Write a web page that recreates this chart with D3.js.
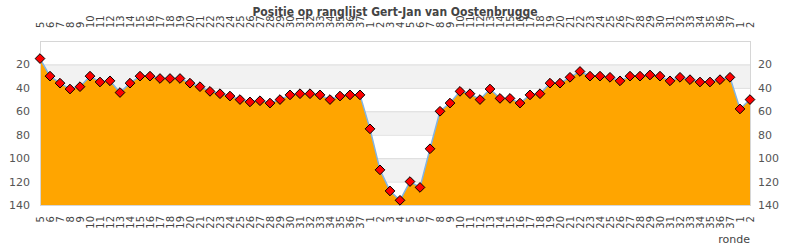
<!DOCTYPE html>
<html>
<head>
<meta charset="utf-8">
<script src="https://cdn.jsdelivr.net/npm/d3@7"></script>
<style>
  body { margin: 0; background: #fff; }
  svg text { font-family: "DejaVu Sans", sans-serif; }
</style>
</head>
<body>
<div id="chart"></div>
<script>
// rounds over three seasons: 5..37, 1..37, 1..2
const rounds = [
    5, 6, 7, 8, 9, 10, 11, 12, 13, 14, 15, 16, 17, 18, 19, 20, 21, 22, 23, 24, 25, 26, 27, 28, 29, 30, 31, 32, 33, 34, 35, 36, 37,
    1, 2, 3, 4, 5, 6, 7, 8, 9, 10, 11, 12, 13, 14, 15, 16, 17, 18, 19, 20, 21, 22, 23, 24, 25, 26, 27, 28, 29, 30, 31, 32, 33, 34, 35, 36, 37,
    1, 2
];
const positions = [
    15, 30, 36, 41, 39, 30, 35, 34, 44, 36, 30, 30, 32, 32, 32, 36, 39, 43, 45, 47, 50, 52, 51, 53, 50, 46, 45, 45, 46, 50, 47, 46, 46,
    75, 110, 128, 136, 120, 125, 92, 60, 53, 43, 45, 50, 41, 49, 49, 53, 46, 45, 36, 36, 31, 26, 30, 30, 31, 34, 30, 30, 29, 30, 34, 31, 33, 35, 35, 33, 31,
    58, 50
];
const yTicks = [20, 40, 60, 80, 100, 120, 140];
const title = "Positie op ranglijst Gert-Jan van Oostenbrugge";
const xTitle = "ronde";

const width = 790,
    height = 250,
    margin = { left: 40, right: 40, top: 41, bottom: 45 };

const chartWidth = width - margin.left - margin.right;
const chartHeight = height - margin.top - margin.bottom;

const data = rounds.map((r, i) => ({ i: i, round: r, pos: positions[i] }));

const svg = d3.select("#chart").append("svg")
    .attr("width", width)
    .attr("height", height);

const xScale = d3.scaleLinear()
    .domain([0, data.length - 1])
    .range([0, chartWidth]);

const yScale = d3.scaleLinear()
    .domain([0, 140])
    .range([0, chartHeight]);

const g = svg.append("g")
    .attr("transform", "translate(" + margin.left + "," + margin.top + ")");

// alternating bands
const bands = [0].concat(yTicks);
g.selectAll(".band")
    .data(d3.pairs(bands))
    .join("rect")
    .attr("x", 0)
    .attr("width", chartWidth)
    .attr("y", d => yScale(d[0]))
    .attr("height", d => yScale(d[1]) - yScale(d[0]))
    .attr("fill", (d, i) => i % 2 ? "#f2f2f2" : "#ffffff");

// grid lines
g.selectAll(".grid")
    .data(yTicks)
    .join("line")
    .attr("x1", 0)
    .attr("x2", chartWidth)
    .attr("y1", d => yScale(d) + 0.5)
    .attr("y2", d => yScale(d) + 0.5)
    .attr("stroke", "#dddddd");

// area
const area = d3.area()
    .x(d => xScale(d.i))
    .y0(chartHeight)
    .y1(d => yScale(d.pos));

g.append("path")
    .datum(data)
    .attr("d", area)
    .attr("fill", "#ffa500");

const line = d3.line()
    .x(d => xScale(d.i))
    .y(d => yScale(d.pos));

g.append("path")
    .datum(data)
    .attr("d", line)
    .attr("fill", "none")
    .attr("stroke", "#80b4e6")
    .attr("stroke-width", 1.5);

// plot frame
g.append("rect")
    .attr("x", 0.5)
    .attr("y", 0.5)
    .attr("width", chartWidth)
    .attr("height", chartHeight)
    .attr("fill", "none")
    .attr("stroke", "#d6d6d6");

// diamond markers
const diamond = d3.symbol().type(d3.symbolDiamond2).size(60);
g.selectAll(".marker")
    .data(data)
    .join("path")
    .attr("transform", d => "translate(" + xScale(d.i) + "," + yScale(d.pos) + ")")
    .attr("d", diamond)
    .attr("fill", "#ff0000")
    .attr("stroke", "#000")
    .attr("stroke-width", 1);

// y axes (left and right)
const yAxisLeft = d3.axisLeft(yScale).tickValues(yTicks).tickSize(0).tickPadding(10);
const yAxisRight = d3.axisRight(yScale).tickValues(yTicks).tickSize(0).tickPadding(8);

[g.append("g").call(yAxisLeft), g.append("g").attr("transform", "translate(" + chartWidth + ",0)").call(yAxisRight)]
    .forEach(ax => {
        ax.select(".domain").remove();
        ax.selectAll("text")
            .attr("fill", "#555")
            .style("font-size", "11px");
    });

// x labels, top and bottom, rotated
g.selectAll(".xlab-top")
    .data(data)
    .join("text")
    .attr("transform", d => "translate(" + (xScale(d.i) + 3.5) + "," + (-13) + ") rotate(-90)")
    .attr("text-anchor", "start")
    .style("font-size", "10px")
    .attr("fill", "#444")
    .text(d => d.round);

g.selectAll(".xlab-bottom")
    .data(data)
    .join("text")
    .attr("transform", d => "translate(" + (xScale(d.i) + 3.5) + "," + (chartHeight + 11) + ") rotate(-90)")
    .attr("text-anchor", "end")
    .style("font-size", "10px")
    .attr("fill", "#444")
    .text(d => d.round);

// title
svg.append("text")
    .attr("x", width / 2)
    .attr("y", 16)
    .attr("text-anchor", "middle")
    .style("font-size", "12px")
    .style("font-weight", "bold")
    .style("font-family", "'DejaVu Sans Condensed', 'DejaVu Sans', sans-serif")
    .attr("fill", "#444")
    .text(title);

// x axis title
svg.append("text")
    .attr("x", margin.left + chartWidth)
    .attr("y", 243)
    .attr("text-anchor", "end")
    .style("font-size", "11px")
    .attr("fill", "#444")
    .text(xTitle);
</script>
</body>
</html>
